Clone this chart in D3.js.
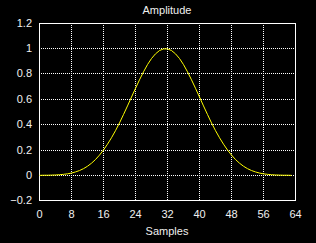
<!DOCTYPE html>
<html><head><meta charset="utf-8">
<script src="https://cdn.jsdelivr.net/npm/d3@7"></script>
<style>
html,body{margin:0;padding:0;background:#000;}
svg{display:block;}
text{font-family:"Liberation Sans",Arial,sans-serif;font-size:11px;fill:#f0f0f0;}
</style></head>
<body>
<script>
const title = "Amplitude";
const xLabel = "Samples";
const xTicks = [0, 8, 16, 24, 32, 40, 48, 56, 64];
const yTicks = [-0.2, 0, 0.2, 0.4, 0.6, 0.8, 1, 1.2];
const samples = d3.range(64);
const amplitude = [
  0.000, 0.001, 0.001, 0.002, 0.003, 0.005, 0.008, 0.012,
  0.018, 0.027, 0.038, 0.053, 0.072, 0.096, 0.125, 0.160,
  0.200, 0.246, 0.297, 0.353, 0.414, 0.480, 0.548, 0.618,
  0.687, 0.754, 0.817, 0.874, 0.922, 0.959, 0.985, 0.998,
  0.998, 0.985, 0.959, 0.922, 0.874, 0.817, 0.754, 0.687,
  0.618, 0.548, 0.480, 0.414, 0.353, 0.297, 0.246, 0.200,
  0.160, 0.125, 0.096, 0.072, 0.053, 0.038, 0.027, 0.018,
  0.012, 0.008, 0.005, 0.003, 0.002, 0.001, 0.001, 0.000
];

const W = 316, H = 243;
const svg = d3.select("body").append("svg").attr("width", W).attr("height", H);
svg.append("rect").attr("width", W).attr("height", H).attr("fill", "#000");

const x = d3.scaleLinear().domain([0, 64]).range([39.5, 295.5]);
const y = d3.scaleLinear().domain([-0.2, 1.2]).range([200.7, 23.3]);
const py = v => Math.floor(y(v)) + 0.5;

// grid
const g = svg.append("g").attr("shape-rendering", "crispEdges");
g.selectAll(".vg").data(xTicks.slice(1, -1)).enter().append("line")
  .attr("x1", d => x(d)).attr("x2", d => x(d))
  .attr("y1", py(1.2) + 1).attr("y2", py(-0.2))
  .attr("stroke", "#fff").attr("stroke-dasharray", "1,1");
g.selectAll(".hg").data(yTicks.slice(1, -1)).enter().append("line")
  .attr("x1", x(0) + 1).attr("x2", x(64))
  .attr("y1", d => py(d)).attr("y2", d => py(d))
  .attr("stroke", "#fff").attr("stroke-dasharray", "1,1");

// curve
const line = d3.line().x((d, i) => x(samples[i])).y(d => y(d));
svg.append("path").datum(amplitude).attr("d", line)
  .attr("fill", "none").attr("stroke", "#ffff00").attr("stroke-width", 1);

// border
g.append("rect").attr("x", x(0)).attr("y", py(1.2))
  .attr("width", x(64) - x(0)).attr("height", py(-0.2) - py(1.2))
  .attr("fill", "none").attr("stroke", "#fff");

// axes labels
svg.selectAll(".yl").data(yTicks).enter().append("text")
  .attr("x", 32).attr("y", d => py(d)).attr("dy", "0.35em")
  .attr("text-anchor", "end").text(d => d3.format("~g")(d));
svg.selectAll(".xl").data(xTicks).enter().append("text")
  .attr("x", d => x(d)).attr("y", 214).attr("dy", "0.35em")
  .attr("text-anchor", "middle").text(d => d);

svg.append("text").attr("x", 167).attr("y", 10).attr("dy", "0.35em")
  .attr("text-anchor", "middle").text(title);
svg.append("text").attr("x", 167).attr("y", 231).attr("dy", "0.35em")
  .attr("text-anchor", "middle").text(xLabel);
</script>
</body></html>
